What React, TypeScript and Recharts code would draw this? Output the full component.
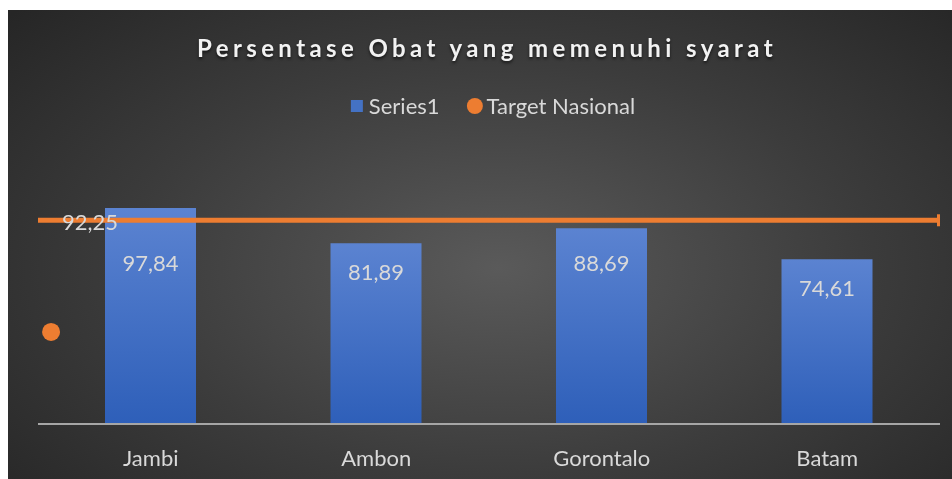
import { ComposedChart, Bar, XAxis, YAxis, ReferenceLine, Scatter, LabelList } from "recharts"

const categories = ["Jambi", "Ambon", "Gorontalo", "Batam"]
const series1 = [97.84, 81.89, 88.69, 74.61]
const targetNasional = 92.25
// the lone orange marker sitting near the left edge of the plot
const targetPoint = [{ x: 0.058, y: 41.7 }]

const data = categories.map((name, i) => ({ name, series1: series1[i] }))

const FONT = "Lato, 'Open Sans', sans-serif"
const TEXT = "#d9d9d9"
const ORANGE = "#ED7D31"
const BLUE = "#4472C4"

const fmt = (v: number) => v.toFixed(2).replace(".", ",")

function BarValue(props: any) {
  const { x, y, width, height, value } = props
  const perUnit = height / value
  const targetY = y + height - targetNasional * perUnit
  const ty = Math.max(y + 28, targetY + 42)
  return (
    <text x={x + width / 2} y={ty} fill={TEXT} fontSize={22} fontFamily={FONT} textAnchor="middle" dominantBaseline="central">
      {fmt(value)}
    </text>
  )
}

function TargetShape(props: any) {
  const { x1, y1, x2, y2 } = props
  return (
    <g>
      <line x1={x1} y1={y1} x2={x2} y2={y2} stroke={ORANGE} strokeWidth={5} />
      <rect x={x2 - 3} y={y2 - 6} width={3} height={12} fill={ORANGE} />
      <text x={x1 + 24} y={y1 + 1} fill={TEXT} fontSize={22} fontFamily={FONT} dominantBaseline="central">
        {fmt(targetNasional)}
      </text>
    </g>
  )
}

function Tick(props: any) {
  const { x, y, payload } = props
  return (
    <text x={x} y={y} fill={TEXT} fontSize={22} fontFamily={FONT} textAnchor="middle" dominantBaseline="central">
      {payload.value}
    </text>
  )
}

export default function App() {
  return (
    <div
      style={{
        position: "fixed",
        left: 8,
        top: 10,
        width: 944,
        height: 469,
        background: "radial-gradient(ellipse 70% 80% at 52% 55%, #5a5a5a 0%, #3c3c3c 55%, #262626 100%)",
        fontFamily: FONT,
      }}
    >
      <div
        style={{
          position: "absolute",
          left: 479,
          top: 24,
          transform: "translateX(-50%)",
          whiteSpace: "nowrap",
          color: "#f2f2f2",
          fontSize: 24,
          lineHeight: "28px",
          fontWeight: 700,
          letterSpacing: 4.4,
          textShadow: "0 2px 3px rgba(0,0,0,0.6)",
        }}
      >
        Persentase Obat yang memenuhi syarat
      </div>
      <div
        style={{
          position: "absolute",
          left: 485,
          top: 83,
          transform: "translateX(-50%)",
          whiteSpace: "nowrap",
          display: "flex",
          alignItems: "center",
          color: TEXT,
          fontSize: 22,
          lineHeight: "26px",
        }}
      >
        <span style={{ width: 12, height: 12, background: BLUE, marginRight: 6 }} />
        <span>Series1</span>
        <span style={{ width: 16, height: 16, borderRadius: 8, background: ORANGE, marginLeft: 27, marginRight: 4 }} />
        <span>Target Nasional</span>
      </div>
      <ComposedChart
        width={944}
        height={469}
        data={data}
        margin={{ top: 149, right: 12, left: 30, bottom: 0 }}
        style={{ position: "absolute", left: 0, top: 0 }}
      >
        <defs>
          <linearGradient id="barFill" x1="0" y1="0" x2="0" y2="1">
            <stop offset="0%" stopColor="#5b83d1" />
            <stop offset="100%" stopColor="#2e5fb9" />
          </linearGradient>
        </defs>
        <XAxis
          dataKey="name"
          height={55}
          tickLine={false}
          tickSize={0}
          tickMargin={33}
          axisLine={{ stroke: "#a6a6a6", strokeWidth: 2 }}
          tick={<Tick />}
        />
        <XAxis xAxisId="pt" type="number" dataKey="x" domain={[0, 4]} hide />
        <YAxis domain={[0, 120]} hide />
        <Bar dataKey="series1" name="Series1" fill="url(#barFill)" barSize={91} isAnimationActive={false}>
          <LabelList dataKey="series1" content={<BarValue />} />
        </Bar>
        <ReferenceLine y={targetNasional} shape={<TargetShape />} />
        <Scatter
          xAxisId="pt"
          data={targetPoint}
          dataKey="y"
          name="Target Nasional"
          fill={ORANGE}
          isAnimationActive={false}
          shape={(p: any) => <circle cx={p.cx} cy={p.cy} r={9} fill={ORANGE} />}
        />
      </ComposedChart>
    </div>
  )
}
